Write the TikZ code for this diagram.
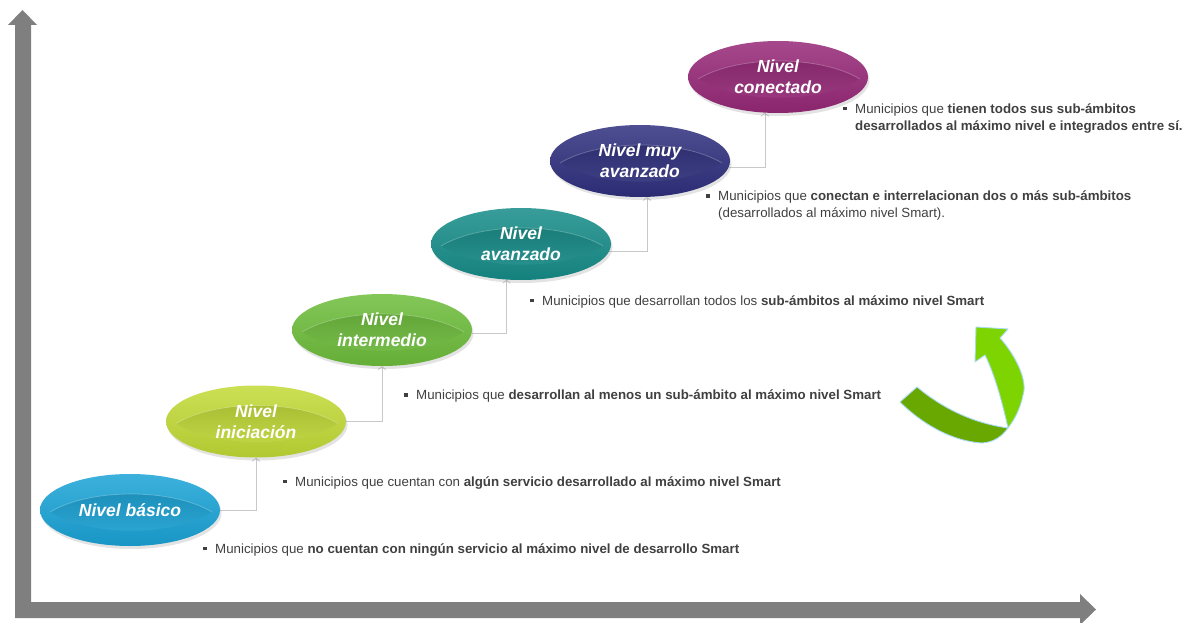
\documentclass[tikz,border=0pt]{standalone}
\usepackage{fontspec}
\setmainfont{Liberation Sans}
\usetikzlibrary{shapes.geometric,shadows,arrows.meta,backgrounds}
\definecolor{axisgray}{HTML}{7F7F7F}
\definecolor{conngray}{HTML}{C8C8C8}
\definecolor{txtgray}{HTML}{404040}
\definecolor{cbasico}{HTML}{1AA3D6}
\definecolor{cinic}{HTML}{C2DA36}
\definecolor{cinter}{HTML}{6DBD3B}
\definecolor{cavan}{HTML}{168C88}
\definecolor{cmuy}{HTML}{2F2F7E}
\definecolor{ccon}{HTML}{962877}
\definecolor{arrdark}{HTML}{68A800}
\definecolor{arrlight}{HTML}{7ED400}
\definecolor{arredge}{HTML}{A8DAF2}
\tikzset{
  lvl/.style={ellipse, minimum width=180pt, minimum height=72pt, inner sep=0pt,
    top color=#1!85!white, bottom color=#1!92!black, draw=none,
    drop shadow={opacity=0.22, shadow xshift=1.5pt, shadow yshift=-3pt},
    text=white, align=center, font=\fontsize{17.5}{21}\selectfont\bfseries\itshape,
    path picture={
      \shade[top color=#1!82!black, bottom color=#1!90!white]
        ([xshift=-80pt,yshift=-2pt]path picture bounding box.center)
        .. controls +(40pt,24pt) and +(-40pt,24pt) .. ++(162pt,0pt)
        .. controls +(-40pt,-25pt) and +(40pt,-25pt) .. ++(-162pt,0pt) -- cycle;
      \draw[white, opacity=0.25, line width=0.8pt]
        ([xshift=-80pt,yshift=-2pt]path picture bounding box.center)
        .. controls +(40pt,24pt) and +(-40pt,24pt) .. ++(162pt,0pt);
    }},
  conn/.style={draw=conngray, line width=0.8pt, -{Straight Barb[length=3pt,width=8pt]}},
  desc/.style={anchor=west, inner sep=0pt, align=left, text=txtgray,
    font=\fontsize{13.3}{17}\selectfont},
}
\newcommand{\bul}{\rule[3pt]{3.5pt}{3.5pt}\hspace{8.5pt}}
\begin{document}
\begin{tikzpicture}[x=1pt,y=-1pt]
\useasboundingbox (0,0) rectangle (1185,623);
% axes
\fill[axisgray] (15,618) -- (15,25) -- (8,25) -- (22.5,10) -- (37,25) -- (31,25)
  -- (31,602) -- (1080,602) -- (1080,594) -- (1096,609.5) -- (1080,625) -- (1080,618) -- cycle;
% levels
\node[lvl=cbasico] (b) at (130,510) {Nivel básico};
\node[lvl=cinic] (i) at (256,421.5) {Nivel\\iniciación};
\node[lvl=cinter] (m) at (382,330) {Nivel\\intermedio};
\node[lvl=cavan] (a) at (521,244) {Nivel\\avanzado};
\node[lvl=cmuy] (v) at (640,161) {Nivel muy\\avanzado};
\node[lvl=ccon] (c) at (778,77) {Nivel\\conectado};
% connectors
\begin{scope}[on background layer]
\draw[conn] (b.east) -| (i.south);
\draw[conn] (i.east) -| (m.south);
\draw[conn] (m.-2) -| (a.248);
\draw[conn] (a.-5) -| (v.281);
\draw[conn] (v.-4.5) -| (c.250);
\end{scope}
% descriptions
\node[desc] (d1) at (203,550) {\bul Municipios que \textbf{no cuentan con ningún servicio al máximo nivel de desarrollo Smart}};
\node[desc] (d2) at (283,483) {\bul Municipios que cuentan con \textbf{algún servicio desarrollado al máximo nivel Smart}};
\node[desc] (d3) at (404,396) {\bul Municipios que \textbf{desarrollan al menos un sub-ámbito al máximo nivel Smart}};
\node[desc] (d4) at (530,302) {\bul Municipios que desarrollan todos los \textbf{sub-ámbitos al máximo nivel Smart}};
\node[desc] (d5) at (706,205.5) {\bul Municipios que \textbf{conectan e interrelacionan dos o más sub-ámbitos}\\\hspace*{12pt}(desarrollados al máximo nivel Smart).};
\node[desc] (d6) at (843,118.5) {\bul Municipios que \textbf{tienen todos sus sub-ámbitos}\\\hspace*{12pt}\textbf{desarrollados al máximo nivel e integrados entre sí.}};
% curved green arrow
\draw[fill=arrdark, draw=arredge, line width=0.9pt, line join=round]
  (900,402) -- (917,387) .. controls (935,402) and (965,422) .. (1008,428)
  .. controls (1002,436) and (995,442) .. (982,443)
  .. controls (950,441) and (920,422) .. cycle;
\draw[fill=arrlight, draw=arredge, line width=0.9pt, line join=round]
  (976,327) -- (1008,329) -- (1000,338) .. controls (1015,355) and (1028,380) .. (1023,395)
  .. controls (1020,410) and (1014,420) .. (1008,428)
  .. controls (1003,405) and (995,375) .. (985,355) -- (975,362) -- cycle;
\end{tikzpicture}
\end{document}
